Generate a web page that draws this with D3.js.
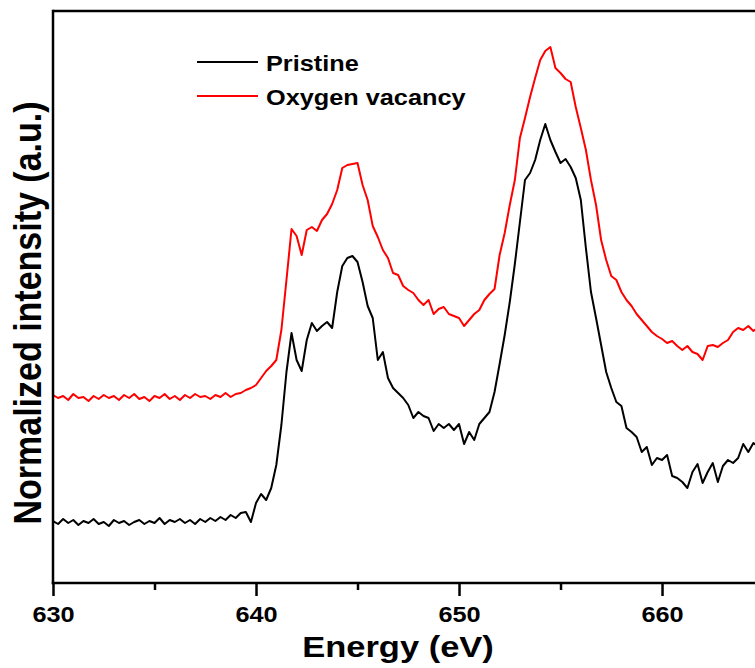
<!DOCTYPE html>
<html>
<head>
<meta charset="utf-8">
<script src="https://cdn.jsdelivr.net/npm/d3@7"></script>
<style>
  html, body { margin: 0; padding: 0; background: #fff; }
  svg { display: block; }
  text { font-family: "Liberation Sans", Arial, sans-serif; font-weight: bold; fill: #000; }
</style>
</head>
<body>
<svg id="chart" width="755" height="668"></svg>
<script>
// ---- Data ----
const energyStart = 630;      // eV, first sample
const energyStep = 0.25;      // eV, sample spacing
const seriesNames = ["Pristine", "Oxygen vacancy"];
const seriesColors = ["#000000", "#ff0000"];
const xTickValues = [630, 640, 650, 660];
const xMinorTickValues = [635, 645, 655];
const xDomain = [630, 664.58];
const yDomain = [0, 5.72];

const pristine = [
  0.62,0.59,0.64,0.60,0.63,0.58,0.62,0.60,0.64,0.59,
  0.61,0.57,0.63,0.60,0.62,0.58,0.61,0.63,0.59,0.62,
  0.60,0.65,0.59,0.63,0.61,0.64,0.60,0.63,0.59,0.64,
  0.61,0.65,0.62,0.66,0.63,0.68,0.65,0.70,0.71,0.61,
  0.80,0.89,0.83,0.95,1.18,1.58,2.11,2.50,2.23,2.12,
  2.43,2.60,2.52,2.57,2.61,2.55,2.91,3.17,3.25,3.27,
  3.21,3.01,2.77,2.65,2.23,2.31,2.05,1.95,1.90,1.85,
  1.78,1.65,1.71,1.67,1.65,1.52,1.59,1.55,1.59,1.53,
  1.59,1.39,1.51,1.43,1.59,1.65,1.71,1.91,2.19,2.48,
  2.81,3.19,3.61,4.03,4.10,4.23,4.43,4.59,4.43,4.31,
  4.20,4.24,4.16,4.05,3.83,3.35,2.91,2.65,2.38,2.11,
  1.95,1.81,1.77,1.55,1.51,1.46,1.31,1.36,1.18,1.25,
  1.23,1.28,1.07,1.05,1.01,0.95,1.11,1.19,1.00,1.11,
  1.20,1.01,1.17,1.23,1.20,1.25,1.39,1.31,1.40,1.36
];

const oxygenVacancy = [
  1.88,1.85,1.87,1.83,1.89,1.85,1.86,1.82,1.87,1.84,
  1.88,1.85,1.87,1.83,1.88,1.85,1.89,1.84,1.86,1.82,
  1.87,1.85,1.89,1.84,1.87,1.83,1.88,1.85,1.89,1.86,
  1.87,1.84,1.88,1.86,1.90,1.86,1.89,1.90,1.93,1.95,
  1.98,2.05,2.12,2.17,2.23,2.53,3.03,3.54,3.47,3.28,
  3.53,3.56,3.52,3.63,3.69,3.79,3.93,4.15,4.18,4.19,
  4.20,3.98,3.83,3.57,3.46,3.33,3.25,3.10,3.08,2.97,
  2.93,2.90,2.83,2.78,2.83,2.69,2.74,2.76,2.69,2.67,
  2.65,2.57,2.63,2.69,2.73,2.83,2.89,2.94,3.28,3.50,
  3.78,4.03,4.45,4.65,4.86,5.05,5.23,5.32,5.36,5.15,
  5.10,5.04,5.01,4.76,4.55,4.33,4.03,3.78,3.43,3.23,
  3.07,3.03,2.91,2.83,2.77,2.69,2.63,2.57,2.51,2.47,
  2.44,2.40,2.42,2.37,2.33,2.37,2.31,2.29,2.23,2.37,
  2.38,2.36,2.40,2.43,2.51,2.55,2.53,2.57,2.52,2.56
];

const seriesValues = [pristine, oxygenVacancy];

// ---- Layout ----
const plot = { left: 53, right: 755, top: 11, bottom: 583 };
const stretch = 1.15; // horizontal stretch of the reference's lettering

const svg = d3.select("#chart");
const x = d3.scaleLinear().domain(xDomain).range([plot.left, plot.right]);
const y = d3.scaleLinear().domain(yDomain).range([plot.bottom, plot.top]);

svg.append("defs").append("clipPath").attr("id", "clip")
  .append("rect")
  .attr("x", plot.left).attr("y", plot.top)
  .attr("width", plot.right - plot.left).attr("height", plot.bottom - plot.top);

// Data lines
const line = d3.line()
  .x((d, i) => x(energyStart + i * energyStep))
  .y(d => y(d));

const dataG = svg.append("g").attr("clip-path", "url(#clip)");
seriesValues.forEach((vals, si) => {
  dataG.append("path")
    .datum(vals)
    .attr("d", line)
    .attr("fill", "none")
    .attr("stroke", seriesColors[si])
    .attr("stroke-width", 2)
    .attr("stroke-linejoin", "round");
});

// Top frame
svg.append("line")
  .attr("x1", plot.left).attr("x2", plot.right)
  .attr("y1", plot.top).attr("y2", plot.top)
  .attr("stroke", "#000").attr("stroke-width", 2.5);

// Left axis (no ticks)
const yAxis = d3.axisLeft(y).tickValues([]).tickSizeOuter(0);
svg.append("g")
  .attr("transform", `translate(${plot.left},0)`)
  .call(yAxis)
  .call(g => g.select(".domain").attr("stroke", "#000").attr("stroke-width", 2.5)
    .attr("d", `M0,${plot.top - 1.25}V${plot.bottom + 1.25}`));

// Bottom axis with major ticks
const xAxis = d3.axisBottom(x).tickValues(xTickValues).tickSize(13).tickSizeOuter(0).tickPadding(8)
  .tickFormat(d3.format("d"));
const xg = svg.append("g")
  .attr("transform", `translate(0,${plot.bottom})`)
  .call(xAxis);
xg.select(".domain").attr("stroke", "#000").attr("stroke-width", 2.5)
  .attr("d", `M${plot.left - 1.25},0H${plot.right}`);
xg.selectAll(".tick line").attr("stroke", "#000").attr("stroke-width", 2.5);
xg.selectAll(".tick text")
  .attr("font-size", 22)
  .attr("font-family", "Liberation Sans, Arial, sans-serif")
  .attr("font-weight", "bold")
  .attr("fill", "#000")
  .attr("dy", null)
  .attr("y", 0)
  .attr("transform", `translate(0,39) scale(${stretch},1)`);

// Minor ticks
const xMinor = d3.axisBottom(x).tickValues(xMinorTickValues).tickSize(7).tickSizeOuter(0).tickFormat("");
const xmg = svg.append("g")
  .attr("transform", `translate(0,${plot.bottom})`)
  .call(xMinor);
xmg.select(".domain").remove();
xmg.selectAll(".tick line").attr("stroke", "#000").attr("stroke-width", 2.5);

// Axis titles
svg.append("text")
  .attr("transform", `translate(398,657) scale(${stretch},1)`)
  .attr("text-anchor", "middle")
  .attr("font-size", 30)
  .text("Energy (eV)");

svg.append("text")
  .attr("transform", `translate(41,313) rotate(-90) scale(1,${stretch})`)
  .attr("text-anchor", "middle")
  .attr("font-size", 34)
  .text("Normalized intensity (a.u.)");

// Legend
const legend = svg.append("g");
const legendY = [62, 96];
seriesNames.forEach((name, i) => {
  legend.append("line")
    .attr("x1", 197).attr("x2", 258)
    .attr("y1", legendY[i]).attr("y2", legendY[i])
    .attr("stroke", seriesColors[i]).attr("stroke-width", 2);
  legend.append("text")
    .attr("transform", `translate(266,${legendY[i] + 8.5}) scale(${stretch},1)`)
    .attr("font-size", 22)
    .text(name);
});
</script>
</body>
</html>
